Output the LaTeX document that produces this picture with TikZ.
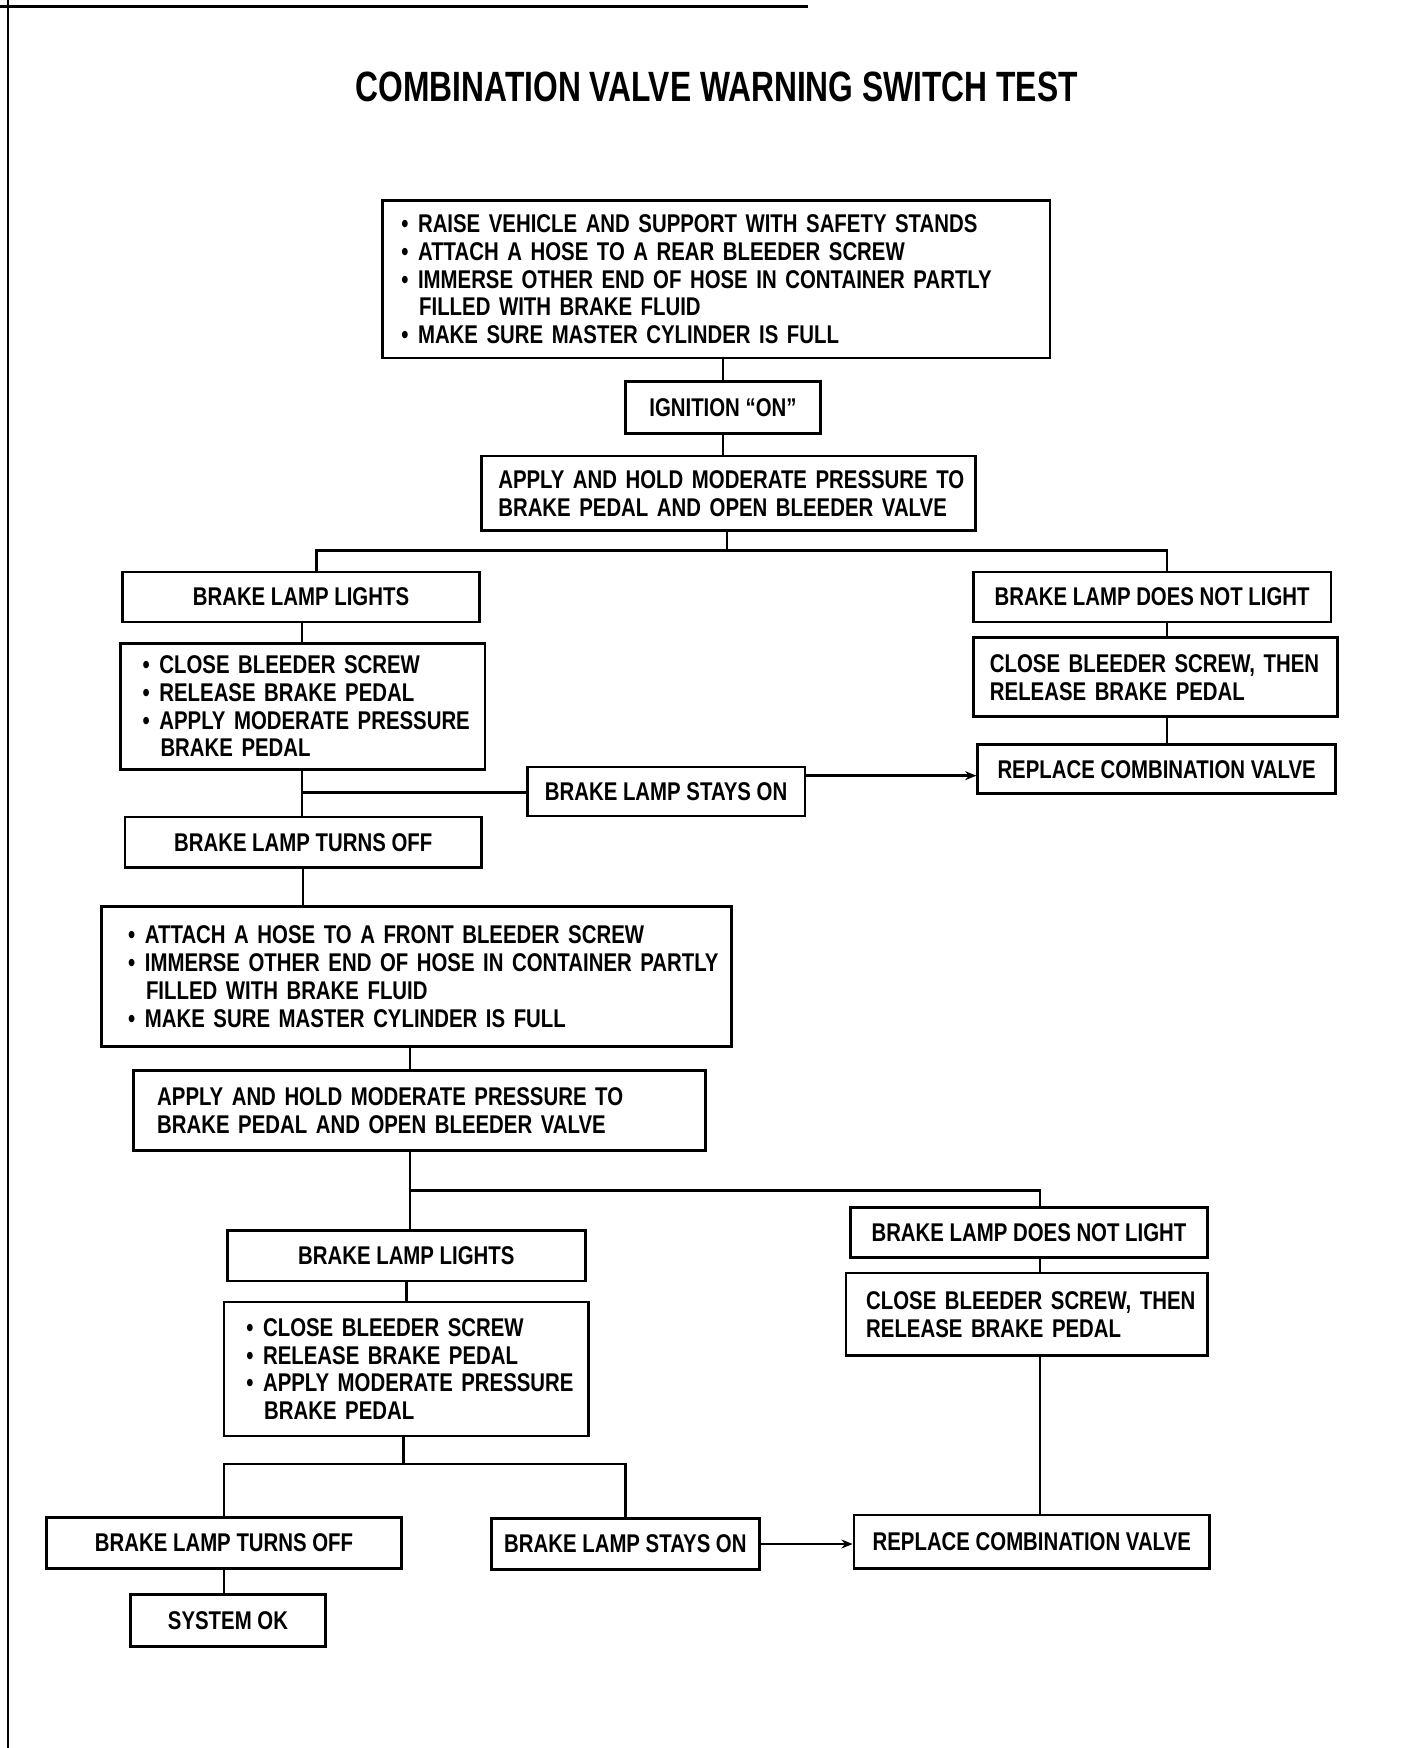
\documentclass[tikz,border=0pt]{standalone}
\usepackage{fontspec}
\setmainfont{Liberation Sans}[FakeStretch=0.795]
\newfontfamily\titlefont{Liberation Sans}[FakeStretch=0.75]
\usetikzlibrary{arrows.meta, calc}

\newcommand{\bul}[1]{\mbox{\makebox[15pt][l]{\textbullet}#1}}
\newcommand{\ind}[1]{\mbox{\hspace*{16pt}#1}}

\tikzset{
  box/.style={draw, line width=2.4pt, inner ysep=0pt,
    font=\fontsize{23}{25}\selectfont\bfseries},
  list/.style={box, align=left},
  link/.style={line width=2.2pt},
}

\begin{document}
\begin{tikzpicture}[x=1pt, y=-1pt]
  \useasboundingbox (0,0) rectangle (1263,1568);
  % page frame of the scan
  \draw[line width=2pt] (7,0) -- (7,1568);
  \draw[line width=2.5pt] (0,6) -- (725,6);

  \node[font=\titlefont\fontsize{38}{40}\selectfont\bfseries] (title) at (643,78)
    {COMBINATION VALVE WARNING SWITCH TEST};

  \node[list, text width=565pt, inner xsep=17pt, minimum height=141pt] (setup) at (642.5,250.5)
    {\bul{RAISE VEHICLE AND SUPPORT WITH SAFETY STANDS}\\
     \bul{ATTACH A HOSE TO A REAR BLEEDER SCREW}\\
     \bul{IMMERSE OTHER END OF HOSE IN CONTAINER PARTLY}\\
     \ind{FILLED WITH BRAKE FLUID}\\
     \bul{MAKE SURE MASTER CYLINDER IS FULL}};
  \node[box, minimum width=175pt, minimum height=47pt] (ign) at (648.5,365.5) {IGNITION “ON”};
  \node[list, text width=413pt, inner xsep=15pt, minimum height=67pt] (apply1) at (653.5,442.5)
    {\mbox{APPLY AND HOLD MODERATE PRESSURE TO}\\
     \mbox{BRAKE PEDAL AND OPEN BLEEDER VALVE}};

  % first test, left side
  \node[box, minimum width=320pt, minimum height=45pt] (lights1) at (270,535.5) {BRAKE LAMP LIGHTS};
  \node[list, text width=287pt, inner xsep=20pt, minimum height=113pt] (close1) at (271.5,633.5)
    {\bul{CLOSE BLEEDER SCREW}\\
     \bul{RELEASE BRAKE PEDAL}\\
     \bul{APPLY MODERATE PRESSURE}\\
     \ind{BRAKE PEDAL}};
  \node[box, minimum width=249pt, minimum height=44pt] (stays1) at (597.5,710) {BRAKE LAMP STAYS ON};
  \node[box, minimum width=320pt, minimum height=45pt] (turnsOff1) at (272,755.5) {BRAKE LAMP TURNS OFF};

  % first test, right side
  \node[box, minimum width=321pt, minimum height=45pt] (noLight1) at (1033.5,535.5) {BRAKE LAMP DOES NOT LIGHT};
  \node[list, text width=297pt, inner xsep=15pt, minimum height=71pt] (closeThen1) at (1036.5,607.5)
    {\mbox{CLOSE BLEEDER SCREW, THEN}\\
     \mbox{RELEASE BRAKE PEDAL}};
  \node[box, minimum width=321pt, minimum height=44pt] (replace1) at (1037.5,690) {REPLACE COMBINATION VALVE};

  % second test
  \node[list, text width=517pt, inner xsep=24pt, minimum height=126pt] (front) at (373.5,876)
    {\bul{ATTACH A HOSE TO A FRONT BLEEDER SCREW}\\
     \bul{IMMERSE OTHER END OF HOSE IN CONTAINER PARTLY}\\
     \ind{FILLED WITH BRAKE FLUID}\\
     \bul{MAKE SURE MASTER CYLINDER IS FULL}};
  \node[list, text width=471pt, inner xsep=21pt, minimum height=72pt] (apply2) at (376.5,996)
    {\mbox{APPLY AND HOLD MODERATE PRESSURE TO}\\
     \mbox{BRAKE PEDAL AND OPEN BLEEDER VALVE}};

  \node[box, minimum width=321pt, minimum height=45pt] (lights2) at (364.5,1126.5) {BRAKE LAMP LIGHTS};
  \node[list, text width=287pt, inner xsep=20pt, minimum height=120pt] (close2) at (364.5,1228)
    {\bul{CLOSE BLEEDER SCREW}\\
     \bul{RELEASE BRAKE PEDAL}\\
     \bul{APPLY MODERATE PRESSURE}\\
     \ind{BRAKE PEDAL}};
  \node[box, minimum width=318pt, minimum height=46pt] (turnsOff2) at (201,1384) {BRAKE LAMP TURNS OFF};
  \node[box, minimum width=240pt, minimum height=46pt] (stays2) at (561,1385) {BRAKE LAMP STAYS ON};
  \node[box, minimum width=175pt, minimum height=47pt] (sysOk) at (204.5,1453.5) {SYSTEM OK};

  \node[box, minimum width=320pt, minimum height=45pt] (noLight2) at (923,1105.5) {BRAKE LAMP DOES NOT LIGHT};
  \node[list, text width=288pt, inner xsep=18pt, minimum height=74pt] (closeThen2) at (921,1179)
    {\mbox{CLOSE BLEEDER SCREW, THEN}\\
     \mbox{RELEASE BRAKE PEDAL}};
  \node[box, minimum width=319pt, minimum height=48pt] (replace2) at (925.5,1383) {REPLACE COMBINATION VALVE};

  % columns and splits
  \coordinate (split1) at (652,494);
  \coordinate (colL1) at (284,0);
  \coordinate (colR1) at (1047,0);
  \coordinate (join1) at (271,711);
  \coordinate (arr1) at ($(stays1.north east)+(0,9)$);
  \coordinate (split2) at (368,1068);
  \coordinate (colR2) at (933,0);
  \coordinate (split3) at (362,1313);

  \draw[link] (setup.south -| ign) -- (ign.north);
  \draw[link] (ign.south) -- (ign.south |- apply1.north);
  \draw[link] (apply1.south -| split1) -- (split1);
  \draw[link] (colL1 |- lights1.north) |- (split1) -| (colR1 |- noLight1.north);

  \draw[link] (lights1.south -| join1) -- (close1.north -| join1);
  \draw[link] (close1.south -| join1) -- (turnsOff1.north -| join1);
  \draw[link] (join1) -- (join1 -| stays1.west);
  \draw[link, -{Stealth[length=10pt, width=8pt]}] (arr1) -- (arr1 -| replace1.west);
  \draw[link] (noLight1.south -| colR1) -- (closeThen1.north -| colR1);
  \draw[link] (closeThen1.south -| colR1) -- (replace1.north -| colR1);

  \draw[link] (turnsOff1.south) -- (turnsOff1.south |- front.north);
  \draw[link] (front.south -| split2) -- (apply2.north -| split2);
  \draw[link] (apply2.south -| split2) -- (lights2.north -| split2);
  \draw[link] (split2) -| (colR2 |- noLight2.north);
  \draw[link] (noLight2.south -| colR2) -- (closeThen2.north -| colR2);
  \draw[link] (closeThen2.south -| colR2) -- (replace2.north -| colR2);

  \draw[link] (lights2.south) -- (lights2.south |- close2.north);
  \draw[link] (close2.south -| split3) -- (split3);
  \draw[link] (turnsOff2.north) |- (split3) -| (stays2.north);
  \draw[link, -{Stealth[length=10pt, width=8pt]}] (stays2.east) -- (stays2.east -| replace2.west);
  \draw[link] (turnsOff2.south) -- (turnsOff2.south |- sysOk.north);
\end{tikzpicture}
\end{document}
